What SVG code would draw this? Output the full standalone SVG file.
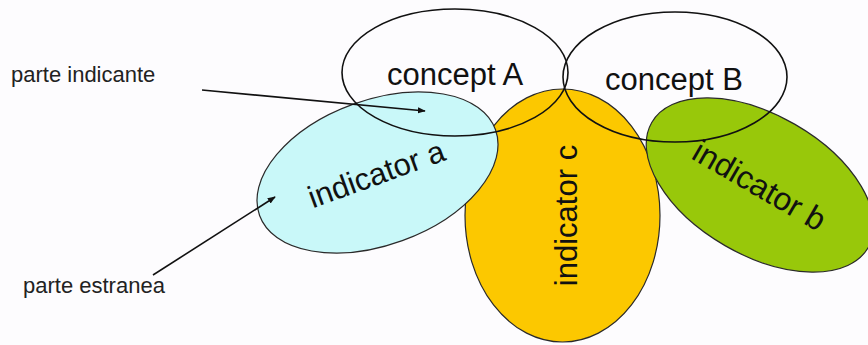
<svg xmlns="http://www.w3.org/2000/svg" width="868" height="345" viewBox="0 0 868 345">
<style>
.ind{stroke:#2a2a2a;stroke-width:1.2}
.con{fill:none;stroke:#111;stroke-width:1.6}
.big{font-family:"Liberation Sans",Arial,sans-serif;font-size:31px;fill:#111}
.lab{font-family:"Liberation Sans",Arial,sans-serif;font-size:22px;fill:#222}
.arr{stroke:#111;stroke-width:1.6;fill:none;marker-end:url(#ah)}
</style>
<defs>
<marker id="ah" viewBox="0 0 10 10" refX="9" refY="5" markerWidth="8" markerHeight="8" markerUnits="userSpaceOnUse" orient="auto">
<path d="M0,1 L10,5 L0,9 Z" fill="#111"/>
</marker>
</defs>
<rect width="868" height="345" fill="#fdfcfe"/>
<g id="indicator-c">
<ellipse class="ind" cx="562.5" cy="215.5" rx="97.5" ry="126.5" fill="#fcc800"/>
<text class="big" transform="translate(577,215.5) rotate(-90)" text-anchor="middle">indicator c</text>
</g>
<g id="indicator-a">
<ellipse class="ind" cx="377.5" cy="172.5" rx="125.5" ry="72.5" transform="rotate(-20 377.5 172.5)" fill="#c9f8f9"/>
<text class="big" transform="translate(380,184) rotate(-20)" text-anchor="middle">indicator a</text>
</g>
<g id="indicator-b">
<ellipse class="ind" cx="760" cy="185" rx="125" ry="70" transform="rotate(30 760 185)" fill="#98c80a"/>
<text class="big" transform="translate(754,195) rotate(30)" text-anchor="middle" style="font-size:32px">indicator b</text>
</g>
<g id="concept-A">
<ellipse class="con" cx="455" cy="72.5" rx="113" ry="63.5"/>
<text class="big" x="455" y="85" text-anchor="middle">concept A</text>
</g>
<g id="concept-B">
<ellipse class="con" cx="675" cy="77" rx="112" ry="65"/>
<text class="big" x="674" y="90" text-anchor="middle">concept B</text>
</g>
<g id="label-indicante">
<text class="lab" x="11" y="82">parte indicante</text>
</g>
<g id="label-estranea">
<text class="lab" x="23" y="293">parte estranea</text>
</g>
<g id="connectors">
<line class="arr" x1="202" y1="90" x2="425" y2="111"/>
<line class="arr" x1="153" y1="275" x2="275" y2="197"/>
</g>
</svg>
